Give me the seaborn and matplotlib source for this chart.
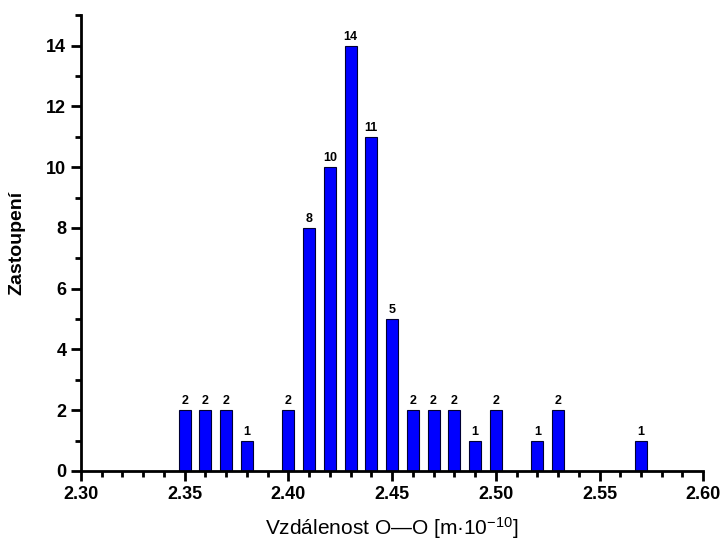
import matplotlib
matplotlib.use("Agg")
import matplotlib.pyplot as plt
from matplotlib.ticker import MultipleLocator, FormatStrFormatter
import seaborn as sns
import pandas as pd

# vzdalenosti O-O a jejich cetnosti
distances = [2.35, 2.36, 2.37, 2.38, 2.40, 2.41, 2.42, 2.43, 2.44, 2.45,
             2.46, 2.47, 2.48, 2.49, 2.50, 2.52, 2.53, 2.57]
counts = [2, 2, 2, 1, 2, 8, 10, 14, 11, 5, 2, 2, 2, 1, 2, 1, 2, 1]
x_ticks = [2.30, 2.35, 2.40, 2.45, 2.50, 2.55, 2.60]
y_ticks = [0, 2, 4, 6, 8, 10, 12, 14]

sns.set_style("ticks")
plt.rcParams["font.family"] = ["Liberation Sans", "DejaVu Sans"]
plt.rcParams["mathtext.fontset"] = "custom"
plt.rcParams["mathtext.rm"] = "Liberation Sans"
plt.rcParams["mathtext.it"] = "Liberation Sans"
plt.rcParams["text.color"] = "black"
plt.rcParams["axes.labelcolor"] = "black"

df = pd.DataFrame({"vzdalenost": distances, "pocet": counts})

fig = plt.figure(figsize=(7.22, 5.42), dpi=100)
ax = fig.add_axes([0.112, 0.131, 0.862, 0.841])

sns.barplot(data=df, x="vzdalenost", y="pocet", native_scale=True,
            width=0.58, color="#0000ff", saturation=1,
            edgecolor="#000033", linewidth=0.8, ax=ax)

ax.bar_label(ax.containers[0], fmt="%d", padding=2,
             fontsize=9, fontweight="bold", color="black")

ax.set_xlim(2.30, 2.60)
ax.set_ylim(0, 15)
ax.set_xticks(x_ticks)
ax.set_yticks(y_ticks)
ax.xaxis.set_major_formatter(FormatStrFormatter("%.2f"))
ax.xaxis.set_minor_locator(MultipleLocator(0.01))
ax.yaxis.set_minor_locator(MultipleLocator(1))

for lab in ax.get_xticklabels() + ax.get_yticklabels():
    lab.set_fontweight("bold")
ax.tick_params(which="major", direction="out", length=7, width=2,
               labelsize=13, colors="black")
ax.tick_params(which="minor", direction="out", length=4, width=2,
               colors="black")

sns.despine(ax=ax)
for s in ["left", "bottom"]:
    ax.spines[s].set_linewidth(2)
    ax.spines[s].set_color("black")

ax.set_xlabel("Vzdálenost O—O [m·10$^{-10}$]", fontsize=15, labelpad=9,
              color="black")
ax.set_ylabel("Zastoupení", fontsize=14, fontweight="bold", labelpad=15,
              color="black")

fig.savefig("out.png", dpi=100)
